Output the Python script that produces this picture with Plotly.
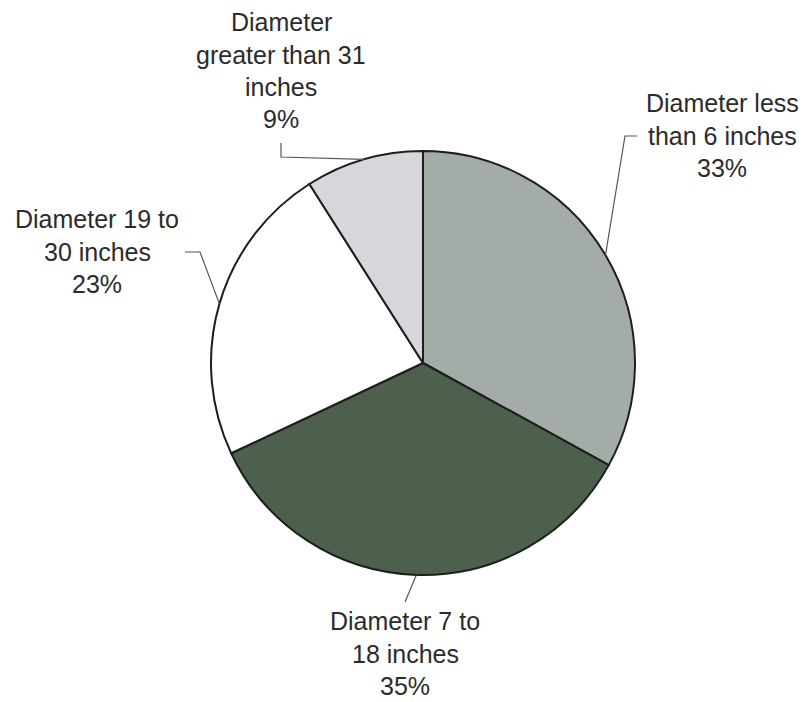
import math
import plotly.graph_objects as go

# Share of trees by trunk diameter class
labels = ["Diameter less than 6 inches", "Diameter 7 to 18 inches",
          "Diameter 19 to 30 inches", "Diameter greater than 31 inches"]
values = [33, 35, 23, 9]
label_lines = [["Diameter less", "than 6 inches"],
               ["Diameter 7 to", "18 inches"],
               ["Diameter 19 to", "30 inches"],
               ["Diameter", "greater than 31", "inches"]]
colors = ["#a3aca6", "#4c604d", "#ffffff", "#d6d6dc"]

W, H = 806, 702
CX, CY, R = 423, 363, 212          # pie centre and radius in pixels
LINE_PITCH = 32.5
FONT = dict(family="Arial, 'Liberation Sans', sans-serif", size=25, color="#2b2b2b")

# label block: centre x and first-line y (pixels), leader elbow points
label_pos = [(722, 103), (405, 621), (97, 219), (281, 22)]
elbows = [[(625, 136), (637, 136)],
          [(405, 602)],
          [(200, 252), (185, 252)],
          [(281, 157), (281, 143)]]


def px(x):
    return x / W


def py(y):
    return 1 - y / H


fig = go.Figure(go.Pie(
    labels=labels,
    values=values,
    sort=False,
    direction="clockwise",
    rotation=0,
    textinfo="none",
    hoverinfo="label+percent",
    marker=dict(colors=colors, line=dict(color="#1e1e1e", width=2)),
    domain=dict(x=[px(CX - R), px(CX + R)], y=[py(CY + R), py(CY - R)]),
    showlegend=False,
))

annotations = []
shapes = []
total = sum(values)
cum = 0
for i, v in enumerate(values):
    mid = 2 * math.pi * (cum + v / 2) / total
    cum += v
    ex, ey = CX + R * math.sin(mid), CY - R * math.cos(mid)

    pts = [(ex, ey)] + elbows[i]
    path = "M " + " L ".join(f"{px(x):.5f},{py(y):.5f}" for x, y in pts)
    shapes.append(dict(type="path", xref="paper", yref="paper", path=path,
                       line=dict(color="#555555", width=1.2)))

    lx, ly = label_pos[i]
    for k, line in enumerate(label_lines[i] + [f"{v}%"]):
        annotations.append(dict(
            x=px(lx), y=py(ly + k * LINE_PITCH), xref="paper", yref="paper",
            text=line, showarrow=False, xanchor="center", yanchor="middle",
            font=FONT,
        ))

fig.update_layout(
    width=W, height=H,
    margin=dict(l=0, r=0, t=0, b=0),
    paper_bgcolor="#ffffff",
    plot_bgcolor="#ffffff",
    annotations=annotations,
    shapes=shapes,
)

fig.write_html("out.html")
